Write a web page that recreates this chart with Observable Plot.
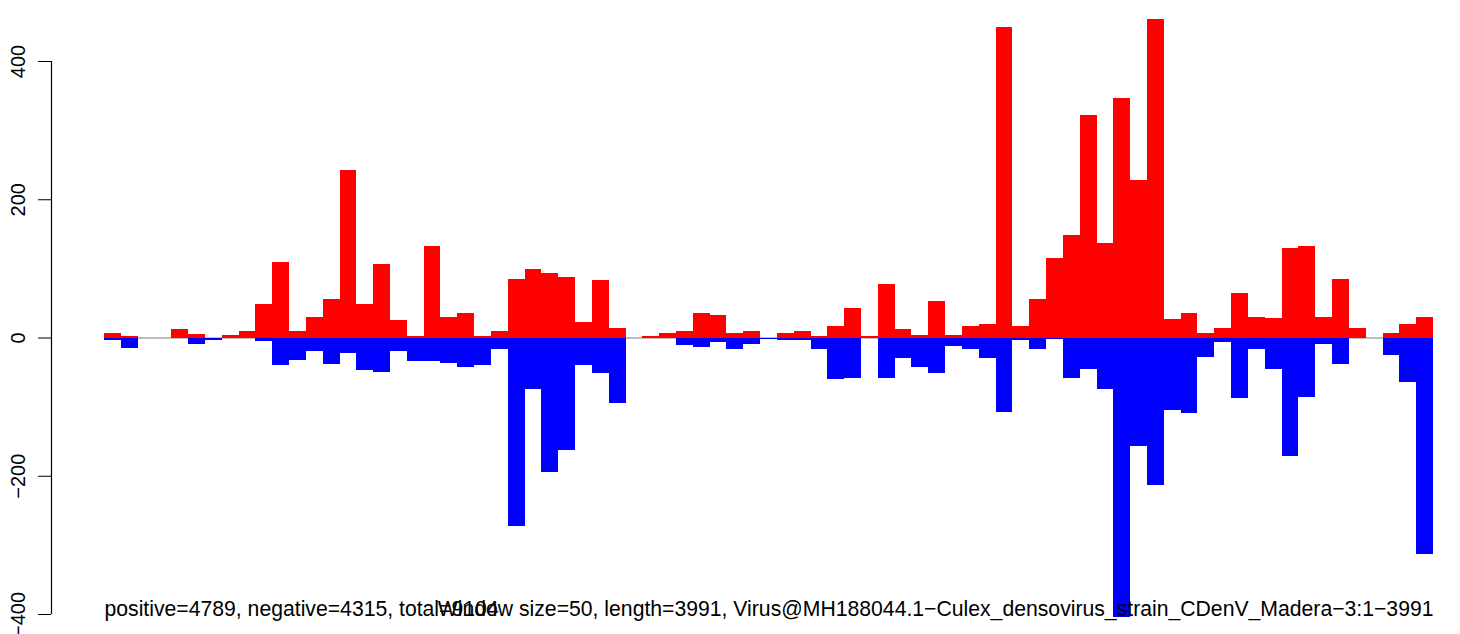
<!DOCTYPE html>
<html>
<head>
<meta charset="utf-8">
<script src="https://cdn.jsdelivr.net/npm/d3@7"></script>
<script src="https://cdn.jsdelivr.net/npm/@observablehq/plot@0.6"></script>
<style>
  html, body { margin: 0; padding: 0; background: #fff; }
  svg { display: block; }
</style>
</head>
<body>
<div id="chart"></div>
<script>
// Window size 50 along the 3991-nt sequence: 79 windows
const windowSize = 50;
const positive = [
  6, 2, 0, 0, 13, 5, 0, 3, 9, 49,
  109, 10, 29, 55, 243, 49, 106, 26, 2, 133,
  30, 36, 2, 10, 85, 99, 94, 88, 23, 83,
  14, 0, 2, 7, 9, 35, 33, 6, 9, 0,
  7, 9, 2, 16, 42, 2, 77, 13, 4, 53,
  3, 16, 19, 449, 17, 55, 115, 148, 322, 137,
  347, 228, 461, 27, 36, 6, 14, 64, 29, 28,
  130, 132, 29, 84, 14, 0, 6, 20, 30
];
const negative = [
  -3, -15, 0, -1, -1, -10, -4, -1, -1, -5,
  -40, -33, -20, -39, -22, -47, -50, -20, -34, -34,
  -37, -43, -40, -17, -272, -75, -195, -163, -40, -52,
  -95, -1, 0, 0, -11, -14, -7, -17, -9, -2,
  -3, -4, -16, -60, -58, -1, -58, -30, -43, -52,
  -13, -17, -29, -108, -4, -17, -2, -59, -45, -75,
  -404, -157, -213, -105, -109, -28, -6, -88, -17, -46,
  -172, -86, -10, -39, 0, -1, -26, -64, -313
];
const yTicks = [-400, -200, 0, 200, 400];
const leftCaption = "positive=4789, negative=4315, total=9104";
const rightCaption = "Window size=50, length=3991, Virus@MH188044.1\u2212Culex_densovirus_strain_CDenV_Madera\u22123:1\u22123991";

const rows = positive.map((p, i) => ({
  start: i * windowSize,
  end: (i + 1) * windowSize,
  pos: p,
  neg: negative[i]
}));

const font = "'Liberation Sans', Arial, Helvetica, sans-serif";

const chart = Plot.plot({
  width: 1460,
  height: 634,
  marginLeft: 104,
  marginRight: 27,
  marginTop: 61,
  marginBottom: 20,
  style: { fontFamily: font, background: "#fff", overflow: "visible" },
  x: { type: "linear", domain: [0, positive.length * windowSize], axis: null },
  y: { domain: [-400, 400], axis: null },
  marks: [
    Plot.ruleY([0], { stroke: "#7f7f7f", strokeWidth: 1 }),
    Plot.rectY(rows, { x1: "start", x2: "end", y1: 0, y2: "pos", fill: "#ff0000", shapeRendering: "crispEdges" }),
    Plot.rectY(rows, { x1: "start", x2: "end", y1: 0, y2: "neg", fill: "#0000ff", shapeRendering: "crispEdges" }),
    Plot.ruleX([0], { y1: yTicks[0], y2: yTicks[yTicks.length - 1], dx: -53, stroke: "#000", strokeWidth: 1.2 }),
    Plot.axisY(yTicks, {
      anchor: "left",
      dx: -53,
      tickSize: 13,
      tickPadding: 14,
      tickRotate: -90,
      fontSize: 20,
      stroke: "#000",
      fill: "#000",
      tickFormat: d => String(d).replace("-", "\u2212")
    }),
    Plot.text([leftCaption], {
      text: d => d,
      frameAnchor: "bottom-left",
      textAnchor: "start",
      lineAnchor: "bottom",
      dy: 1,
      fontSize: 21.2,
      fill: "#000"
    }),
    Plot.text([rightCaption], {
      text: d => d,
      frameAnchor: "bottom-right",
      textAnchor: "end",
      lineAnchor: "bottom",
      dy: 1,
      fontSize: 21.2,
      fill: "#000"
    })
  ]
});
document.getElementById("chart").appendChild(chart);
</script>
</body>
</html>
